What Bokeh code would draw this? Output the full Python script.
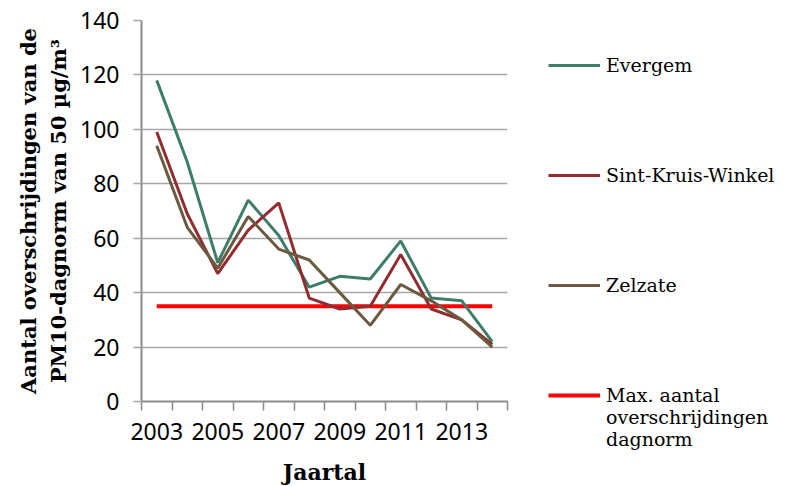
from bokeh.plotting import figure
from bokeh.models import Legend, LegendItem, FixedTicker, Range1d
from bokeh.embed import file_html
from bokeh.resources import INLINE

years = [2003, 2004, 2005, 2006, 2007, 2008, 2009, 2010, 2011, 2012, 2013, 2014]
evergem = [118, 88, 51, 74, 61, 42, 46, 45, 59, 38, 37, 22]
sint_kruis_winkel = [99, 69, 47, 63, 73, 38, 34, 35, 54, 34, 30, 21]
zelzate = [94, 64, 49, 68, 56, 52, 40, 28, 43, 37, 30, 20]
max_norm = [35] * 12
year_labels = [2003, 2005, 2007, 2009, 2011, 2013]
y_ticks = [0, 20, 40, 60, 80, 100, 120, 140]

names = [["Evergem"], ["Sint-Kruis-Winkel"], ["Zelzate"],
         ["Max. aantal", "overschrijdingen", "dagnorm"]]
colors = ["#3E7D69", "#912C31", "#6B5A40", "#FF0000"]
widths = [3, 3, 3, 4]
series = [evergem, sint_kruis_winkel, zelzate, max_norm]

SERIF = "DejaVu Serif"
SANS = "Noto Sans"

p = figure(frame_width=366, frame_height=381, output_backend="svg", toolbar_location=None,
           x_range=Range1d(years[0] - 0.5, years[-1] + 0.5), y_range=Range1d(0, 140),
           min_border_left=141, min_border_right=0, min_border_top=20, min_border_bottom=85)
p.outline_line_color = None
p.xgrid.grid_line_color = None
p.ygrid.grid_line_color = "#A6A6A6"
p.ygrid.grid_line_width = 1.5
p.ygrid.ticker = FixedTicker(ticks=y_ticks)

renderers = [None] * 4
# red norm line first (drawn underneath)
for i in [3, 0, 1, 2]:
    renderers[i] = p.line(years, series[i], color=colors[i], line_width=widths[i])

xa = p.xaxis[0]
xa.ticker = FixedTicker(ticks=year_labels,
                        minor_ticks=[y - 0.5 for y in years] + [years[-1] + 0.5])
xa.major_tick_out = 0
xa.major_tick_in = 0
xa.minor_tick_out = 9
xa.minor_tick_in = 0
xa.minor_tick_line_color = "#8C8C8C"
xa.minor_tick_line_width = 1.5
xa.axis_line_color = "#8C8C8C"
xa.axis_line_width = 2
xa.major_label_text_font = SANS
xa.major_label_text_font_size = "23px"
xa.major_label_text_color = "#000000"
xa.major_label_standoff = 12
xa.axis_label = "Jaartal"
xa.axis_label_text_font = SERIF
xa.axis_label_text_font_style = "bold"
xa.axis_label_text_font_size = "22px"
xa.axis_label_text_color = "#000000"
xa.axis_label_standoff = 16

ya = p.yaxis[0]
ya.ticker = FixedTicker(ticks=y_ticks)
ya.major_tick_out = 8
ya.major_tick_in = 0
ya.major_tick_line_color = "#A6A6A6"
ya.major_tick_line_width = 1.5
ya.minor_tick_line_color = None
ya.axis_line_color = "#8C8C8C"
ya.axis_line_width = 2
ya.major_label_text_font = SANS
ya.major_label_text_font_size = "23px"
ya.major_label_text_color = "#000000"
ya.major_label_standoff = 14
ya.axis_label = "Aantal overschrijdingen van de\nPM10-dagnorm van 50 µg/m³"
ya.axis_label_text_font = SERIF
ya.axis_label_text_font_style = "bold"
ya.axis_label_text_font_size = "21px"
ya.axis_label_text_color = "#000000"
ya.axis_label_standoff = 6

BL = "\u00a0"
items = []
for i in range(4):
    lines = [BL, BL] + names[i]
    lines += [BL] * (5 - len(lines))
    items.append(LegendItem(label="\n".join(lines), renderers=[renderers[i]]))

legend = Legend(items=items, location=(41, -49))
legend.border_line_color = None
legend.background_fill_alpha = 0
legend.padding = 0
legend.margin = 0
legend.glyph_width = 52
legend.glyph_height = 20
legend.label_standoff = 6
legend.label_height = 20
legend.spacing = 0
legend.label_text_font = SERIF
legend.label_text_font_size = "19px"
legend.label_text_color = "#000000"
p.add_layout(legend, "right")

open("out.html", "w").write(file_html(p, INLINE))
